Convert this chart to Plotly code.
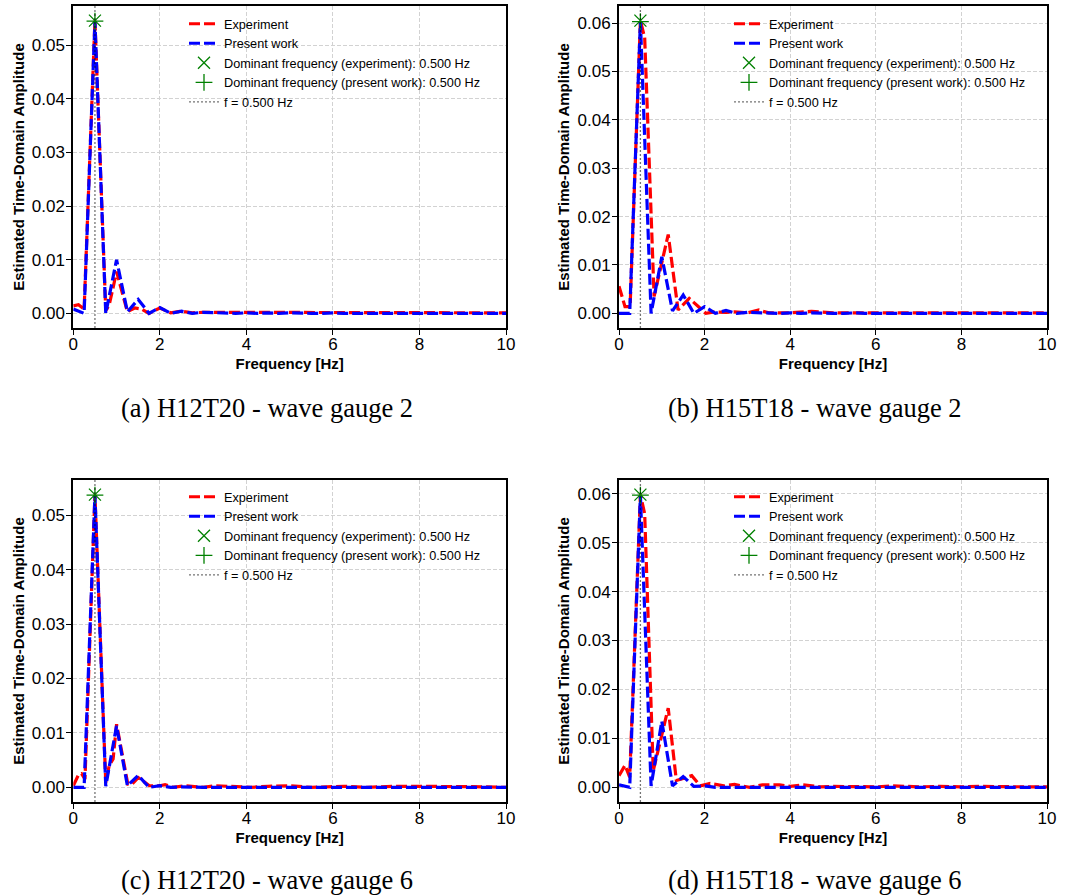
import plotly.graph_objects as go

# ---------------- data ----------------
# frequency bins of the numerical ("Present work") spectra
freq_num = [0.0, 0.25, 0.5, 0.75, 1.0, 1.25, 1.5, 1.75, 2.0, 2.25, 2.5, 2.75,
            3.0, 3.25, 3.5, 3.75, 4.0, 4.25, 4.5, 4.75, 5.0, 5.25, 5.5, 5.75,
            6.0, 6.25, 6.5, 6.75, 7.0, 7.25, 7.5, 7.75, 8.0, 8.25, 8.5, 8.75,
            9.0, 9.25, 9.5, 9.75, 10.0]

# (a) H12T20 - wave gauge 2
f_exp_a = [0.0, 0.12, 0.25, 0.5, 0.75, 0.83, 0.92, 1.0, 1.25, 1.42, 1.58, 1.75,
           2.0, 2.25, 2.5, 2.75, 3.0, 3.5, 4.0, 4.5, 5.0, 5.5, 6.0, 6.5, 7.0,
           7.5, 8.0, 8.5, 9.0, 9.5, 10.0]
amp_exp_a = [0.0014, 0.0016, 0.0008, 0.0546, 0.0005, 0.0016, 0.0048, 0.0078,
             0.0003, 0.0010, 0.0008, 0.0000, 0.0010, 0.0001, 0.0004, 0.0001,
             0.0002, 0.0002, 0.0001, 0.0001, 0.0002, 0.0001, 0.0002, 0.0002,
             0.0001, 0.0002, 0.0001, 0.0002, 0.0001, 0.0001, 0.0001]
amp_num_a = [0.0008, 0.0000, 0.0545, 0.0000, 0.0100, 0.0003, 0.0026, 0.0000,
             0.0011, 0.0000, 0.0004, 0.0000, 0.0002, 0.0001, 0.0001, 0.0000,
             0.0001, 0.0000, 0.0001, 0.0000, 0.0001, 0.0000, 0.0000, 0.0000,
             0.0001, 0.0000, 0.0000, 0.0000, 0.0000, 0.0000, 0.0000, 0.0000,
             0.0000, 0.0000, 0.0000, 0.0000, 0.0000, 0.0000, 0.0000, 0.0000,
             0.0000]

# (b) H15T18 - wave gauge 2
f_exp_b = [0.0, 0.14, 0.26, 0.5, 0.6, 0.82, 1.15, 1.38, 1.64, 2.03, 2.24, 2.5,
           2.7, 3.0, 3.27, 3.5, 4.0, 4.5, 5.0, 5.5, 6.0, 6.5, 7.0, 7.5, 8.0,
           8.5, 9.0, 9.5, 10.0]
amp_exp_b = [0.0056, 0.0014, 0.0014, 0.0605, 0.0570, 0.0035, 0.0163, 0.0007,
             0.0031, 0.0000, 0.0003, 0.0002, 0.0003, 0.0001, 0.0007, 0.0001,
             0.0001, 0.0004, 0.0001, 0.0001, 0.0002, 0.0001, 0.0001, 0.0002,
             0.0001, 0.0001, 0.0001, 0.0001, 0.0001]
amp_num_b = [0.0000, 0.0000, 0.0603, 0.0000, 0.0117, 0.0005, 0.0038, 0.0000,
             0.0014, 0.0000, 0.0006, 0.0000, 0.0002, 0.0001, 0.0001, 0.0000,
             0.0001, 0.0000, 0.0001, 0.0000, 0.0000, 0.0000, 0.0001, 0.0000,
             0.0000, 0.0000, 0.0000, 0.0000, 0.0000, 0.0000, 0.0000, 0.0000,
             0.0000, 0.0000, 0.0000, 0.0000, 0.0000, 0.0000, 0.0000, 0.0000,
             0.0000]

# (c) H12T20 - wave gauge 6
f_exp_c = [0.0, 0.12, 0.19, 0.27, 0.5, 0.75, 0.83, 0.92, 1.0, 1.26, 1.36, 1.5,
           1.76, 2.0, 2.12, 2.3, 2.6, 3.0, 3.3, 3.75, 4.1, 4.5, 5.0, 5.5, 6.25,
           6.8, 7.4, 7.9, 8.3, 9.0, 9.5, 10.0]
amp_exp_c = [0.0003, 0.0023, 0.0025, 0.0015, 0.0538, 0.0009, 0.0040, 0.0052,
             0.0116, 0.0006, 0.0006, 0.0018, 0.0003, 0.0003, 0.0005, 0.0000,
             0.0003, 0.0000, 0.0003, 0.0002, 0.0000, 0.0002, 0.0003, 0.0000,
             0.0002, 0.0000, 0.0002, 0.0002, 0.0002, 0.0001, 0.0001, 0.0000]
amp_num_c = [0.0000, 0.0000, 0.0537, 0.0002, 0.0113, 0.0003, 0.0022, 0.0000,
             0.0003, 0.0000, 0.0001, 0.0000, 0.0000, 0.0000, 0.0000, 0.0000,
             0.0000, 0.0000, 0.0000, 0.0000, 0.0000, 0.0000, 0.0000, 0.0000,
             0.0000, 0.0000, 0.0000, 0.0000, 0.0000, 0.0000, 0.0000, 0.0000,
             0.0000, 0.0000, 0.0000, 0.0000, 0.0000, 0.0000, 0.0000, 0.0000,
             0.0000]

# (d) H15T18 - wave gauge 6
f_exp_d = [0.0, 0.14, 0.25, 0.5, 0.6, 0.8, 1.15, 1.34, 1.46, 1.70, 1.9, 2.13,
           2.45, 2.7, 3.05, 3.35, 3.75, 4.0, 4.3, 4.7, 5.0, 5.5, 6.0, 6.4, 7.0,
           7.5, 8.0, 8.5, 9.0, 9.5, 10.0]
amp_exp_d = [0.0024, 0.0045, 0.0021, 0.0598, 0.0559, 0.0034, 0.0162, 0.0014,
             0.0017, 0.0024, 0.0003, 0.0008, 0.0003, 0.0006, 0.0000, 0.0005,
             0.0005, 0.0002, 0.0005, 0.0001, 0.0002, 0.0002, 0.0001, 0.0003,
             0.0001, 0.0002, 0.0001, 0.0002, 0.0001, 0.0001, 0.0001]
amp_num_d = [0.0005, 0.0000, 0.0597, 0.0003, 0.0135, 0.0003, 0.0022, 0.0002,
             0.0003, 0.0000, 0.0000, 0.0000, 0.0000, 0.0000, 0.0000, 0.0000,
             0.0000, 0.0000, 0.0000, 0.0000, 0.0000, 0.0000, 0.0000, 0.0000,
             0.0000, 0.0000, 0.0000, 0.0000, 0.0000, 0.0000, 0.0000, 0.0000,
             0.0000, 0.0000, 0.0000, 0.0000, 0.0000, 0.0000, 0.0000, 0.0000,
             0.0000]

captions = ["(a) H12T20 - wave gauge 2", "(b) H15T18 - wave gauge 2",
            "(c) H12T20 - wave gauge 6", "(d) H15T18 - wave gauge 6"]
x_ticks = [0, 2, 4, 6, 8, 10]

panels = [
    (f_exp_a, amp_exp_a, freq_num, amp_num_a),
    (f_exp_b, amp_exp_b, freq_num, amp_num_b),
    (f_exp_c, amp_exp_c, freq_num, amp_num_c),
    (f_exp_d, amp_exp_d, freq_num, amp_num_d),
]

# ---------------- layout geometry (pixels in a 1067x896 page) ----------------
W, H = 1067, 896
px_boxes = [  # left, right, top, bottom of each plot area
    (73.3, 506.0, 6.0, 328.0),
    (619.0, 1047.0, 6.0, 328.0),
    (73.3, 506.0, 480.0, 802.0),
    (619.0, 1047.0, 480.0, 802.0),
]
legend_pos = [(184, 9), (729, 9), (184, 482), (729, 482)]
caption_pos = [(267, 408), (815, 408), (267, 880), (815, 880)]

FONT = "Liberation Sans, Arial, sans-serif"
RED, BLUE, GREEN = "#ff0000", "#0000ff", "#008000"

fig = go.Figure()
layout = dict(
    width=W, height=H,
    margin=dict(l=0, r=0, t=0, b=0, autoexpand=False),
    paper_bgcolor="white", plot_bgcolor="white",
    font=dict(family=FONT, color="black"),
    showlegend=True,
    annotations=[],
)

for i, (fe, ae, fn, an) in enumerate(panels):
    k = "" if i == 0 else str(i + 1)
    xa, ya = "x" + k, "y" + k
    leg = "legend" + k

    # dominant frequencies
    ie = max(range(len(ae)), key=lambda j: ae[j])
    inn = max(range(len(an)), key=lambda j: an[j])
    fdom_e, adom_e = fe[ie], ae[ie]
    fdom_n, adom_n = fn[inn], an[inn]

    lo = min(min(ae), min(an))
    hi = max(max(ae), max(an))
    pad = 0.05 * (hi - lo)
    yr = [lo - pad, hi + pad]

    fig.add_trace(go.Scatter(
        x=fe, y=ae, mode="lines", name="Experiment",
        line=dict(color=RED, width=3.2, dash="11px,4px"),
        xaxis=xa, yaxis=ya, legend=leg))
    fig.add_trace(go.Scatter(
        x=fn, y=an, mode="lines", name="Present work",
        line=dict(color=BLUE, width=3.2, dash="11px,4px"),
        xaxis=xa, yaxis=ya, legend=leg))
    fig.add_trace(go.Scatter(
        x=[fdom_e], y=[adom_e], mode="markers",
        name=f"Dominant frequency (experiment): {fdom_e:.3f} Hz",
        marker=dict(symbol="x-thin", size=12, color=GREEN,
                    line=dict(color=GREEN, width=1.3)),
        xaxis=xa, yaxis=ya, legend=leg))
    fig.add_trace(go.Scatter(
        x=[fdom_n], y=[adom_n], mode="markers",
        name=f"Dominant frequency (present work): {fdom_n:.3f} Hz",
        marker=dict(symbol="cross-thin", size=12, color=GREEN,
                    line=dict(color=GREEN, width=1.3)),
        xaxis=xa, yaxis=ya, legend=leg))
    fig.add_trace(go.Scatter(
        x=[fdom_e, fdom_e], y=yr, mode="lines",
        name=f"f = {fdom_e:.3f} Hz",
        line=dict(color="rgba(0,0,0,0.55)", width=1.3, dash="2px,2px"),
        xaxis=xa, yaxis=ya, legend=leg))

    l, r, t, b = px_boxes[i]
    xdom = [l / W, r / W]
    ydom = [(H - b) / H, (H - t) / H]
    common = dict(
        automargin=False,
        showline=True, linecolor="black", linewidth=2, mirror=True,
        ticks="outside", ticklen=5, tickwidth=1.3, tickcolor="black",
        tickfont=dict(family=FONT, size=17, color="black"),
        showgrid=True, gridcolor="#d2d2d2", gridwidth=1, griddash="4px,2px",
        zeroline=False,
    )
    layout["xaxis" + k] = dict(
        common, domain=xdom, anchor=ya, range=[0, 10],
        tickvals=x_ticks, ticktext=[str(v) for v in x_ticks],
        ticklabelstandoff=-5,
        title=dict(text="Frequency [Hz]", standoff=5,
                   font=dict(family=FONT, size=15, weight="bold", color="black")))
    layout["yaxis" + k] = dict(
        common, domain=ydom, anchor=xa, range=yr,
        dtick=0.01, tick0=0, tickformat=".2f",
        ticklabelstandoff=-2,
        title=dict(text="Estimated Time-Domain Amplitude", standoff=4,
                   font=dict(family=FONT, size=15, weight="bold", color="black")))

    lx, ly = legend_pos[i]
    layout[leg] = dict(
        x=lx / W, y=(H - ly) / H, xanchor="left", yanchor="top",
        bgcolor="rgba(0,0,0,0)", borderwidth=0,
        font=dict(family=FONT, size=12.7, color="black"),
        tracegroupgap=0, itemwidth=30,
    )

    cx, cy = caption_pos[i]
    layout["annotations"].append(dict(
        text=captions[i], x=cx / W, y=(H - cy) / H, xref="paper", yref="paper",
        xanchor="center", yanchor="middle", showarrow=False,
        font=dict(family="Liberation Serif, Times New Roman, serif", size=26.5,
                  color="black")))

fig.update_layout(**layout)
# the page's default body margin would shift the fixed-size figure by 8 px
fig.write_html("out.html",
               config={"displayModeBar": False},
               post_script="document.body.style.margin='0';"
                           "document.body.style.overflow='hidden';")
